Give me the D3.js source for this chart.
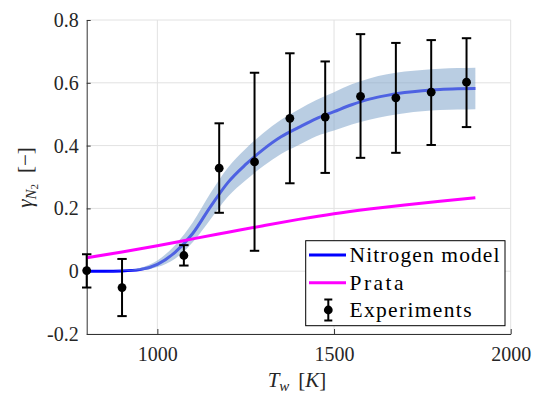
<!DOCTYPE html>
<html>
<head>
<script src="https://cdn.jsdelivr.net/npm/d3@7"></script>
</head>
<body style="margin:0">
<main></main>
<script>
// model curve (Nitrogen model) with its uncertainty band
const modelT = [800, 850, 900, 950, 1000, 1050, 1100, 1150, 1200, 1250, 1300, 1350, 1400, 1450, 1500, 1550, 1600, 1650, 1700, 1750, 1800, 1850, 1900];
const modelVal = [0, 0, 0.001, 0.005, 0.022, 0.06, 0.12, 0.205, 0.283, 0.34, 0.388, 0.428, 0.458, 0.486, 0.508, 0.53, 0.548, 0.56, 0.569, 0.575, 0.579, 0.581, 0.582];
const bandHigh = [0, 0, 0.002, 0.01, 0.034, 0.083, 0.155, 0.248, 0.33, 0.39, 0.44, 0.482, 0.515, 0.545, 0.57, 0.595, 0.614, 0.627, 0.636, 0.641, 0.645, 0.647, 0.648];
const bandLow = [0, 0, 0.001, 0.002, 0.013, 0.04, 0.092, 0.165, 0.238, 0.29, 0.335, 0.373, 0.402, 0.43, 0.448, 0.467, 0.482, 0.494, 0.503, 0.509, 0.513, 0.515, 0.516];

// Prata correlation
const prataT = [800, 900, 1000, 1100, 1200, 1300, 1400, 1500, 1600, 1700, 1800, 1900];
const prataVal = [0.043, 0.061, 0.081, 0.103, 0.124, 0.145, 0.165, 0.183, 0.198, 0.211, 0.223, 0.234];

// experiments with error bars
const expT = [800, 900, 1075, 1175, 1275, 1375, 1475, 1575, 1675, 1775, 1875];
const expVal = [0.002, -0.052, 0.05, 0.328, 0.348, 0.487, 0.491, 0.557, 0.552, 0.57, 0.602];
const expLow = [-0.052, -0.143, 0.018, 0.186, 0.065, 0.28, 0.313, 0.361, 0.377, 0.402, 0.459];
const expHigh = [0.054, 0.039, 0.083, 0.471, 0.632, 0.694, 0.668, 0.755, 0.727, 0.736, 0.742];

const xTicks = [1000, 1500, 2000];
const yTicks = [-0.2, 0, 0.2, 0.4, 0.6, 0.8];
const yTickLabels = ['-0.2', '0', '0.2', '0.4', '0.6', '0.8'];
const legendNames = ['Nitrogen model', 'Prata', 'Experiments'];

const w = 550, h = 394;
const mLeft = 86.7, mRight = 510.7, mTop = 20, mBottom = 334;
const fs = 20;
const fontName = '"Liberation Serif"';

const svg = d3.select('main').append('svg').attr('width', w).attr('height', h);

const x = d3.scaleLinear().domain([800, 2000]).range([mLeft, mRight]);
const y = d3.scaleLinear().domain([-0.2, 0.8]).range([mBottom, mTop]);

// grid
svg.append('g').selectAll('line').data(xTicks).enter().append('line')
    .attr('x1', d => x(d)).attr('x2', d => x(d))
    .attr('y1', mTop).attr('y2', mBottom)
    .attr('stroke', '#e2e2e2').attr('stroke-width', 1);
svg.append('g').selectAll('line').data(yTicks).enter().append('line')
    .attr('x1', mLeft).attr('x2', mRight)
    .attr('y1', d => y(d)).attr('y2', d => y(d))
    .attr('stroke', '#e2e2e2').attr('stroke-width', 1);

// axes
const xAxis = d3.axisBottom(x).tickValues(xTicks).tickSizeInner(-5).tickSizeOuter(0).tickPadding(12.5)
    .tickFormat(d3.format('d'));
const yAxis = d3.axisLeft(y).tickValues(yTicks).tickSizeInner(-4).tickSizeOuter(0).tickPadding(8)
    .tickFormat((d, i) => yTickLabels[i]);
const gx = svg.append('g').attr('transform', `translate(0, ${mBottom})`).call(xAxis);
const gy = svg.append('g').attr('transform', `translate(${mLeft}, 0)`).call(yAxis);
[gx, gy].forEach(g => {
    g.attr('font-family', null).attr('font-size', null);
    g.select('.domain').attr('stroke', '#333').attr('stroke-width', 1);
    g.selectAll('.tick line').attr('stroke', '#333');
    g.selectAll('.tick text')
        .style('font-family', d => fontName)
        .attr('font-size', fs).attr('fill', '#262626');
});

const modelData = modelT.map((t, i) => ({t: t, v: modelVal[i], hi: bandHigh[i], lo: bandLow[i]}));

// model line (band is drawn over it, semi-transparent)
svg.append('path').datum(modelData)
    .attr('d', d3.line().x(d => x(d.t)).y(d => y(d.v)).curve(d3.curveMonotoneX))
    .attr('fill', 'none').attr('stroke', '#0000ff').attr('stroke-width', 3);

svg.append('path').datum(modelData)
    .attr('d', d3.area().x(d => x(d.t)).y0(d => y(d.lo)).y1(d => y(d.hi)).curve(d3.curveMonotoneX))
    .attr('fill', 'rgb(135,168,205)').attr('fill-opacity', 0.58);

// Prata
svg.append('path').datum(prataT.map((t, i) => [t, prataVal[i]]))
    .attr('d', d3.line().x(d => x(d[0])).y(d => y(d[1])).curve(d3.curveMonotoneX))
    .attr('fill', 'none').attr('stroke', '#ff00ff').attr('stroke-width', 3);

// experiments
const cap = 4.7;
const exp = svg.append('g').selectAll('g').data(expT.map((t, i) => ({t: t, v: expVal[i], lo: expLow[i], hi: expHigh[i]})))
    .enter().append('g');
exp.append('line')
    .attr('x1', d => x(d.t)).attr('x2', d => x(d.t))
    .attr('y1', d => y(d.lo)).attr('y2', d => y(d.hi))
    .attr('stroke', '#000').attr('stroke-width', 2);
exp.append('line')
    .attr('x1', d => x(d.t) - cap).attr('x2', d => x(d.t) + cap)
    .attr('y1', d => y(d.lo)).attr('y2', d => y(d.lo))
    .attr('stroke', '#000').attr('stroke-width', 2);
exp.append('line')
    .attr('x1', d => x(d.t) - cap).attr('x2', d => x(d.t) + cap)
    .attr('y1', d => y(d.hi)).attr('y2', d => y(d.hi))
    .attr('stroke', '#000').attr('stroke-width', 2);
exp.append('circle')
    .attr('cx', d => x(d.t)).attr('cy', d => y(d.v)).attr('r', 4.4)
    .attr('fill', '#000');

// axis labels
const xl = svg.append('text').attr('x', 297).attr('y', 386.5).attr('text-anchor', 'middle')
    .style('font-family', fontName).attr('font-size', 21).attr('fill', '#262626');
xl.append('tspan').attr('font-style', 'italic').text('T');
xl.append('tspan').attr('font-style', 'italic').attr('font-size', 15).attr('dy', 4).text('w');
xl.append('tspan').attr('dy', -4).attr('dx', 9).text('[');
xl.append('tspan').attr('font-style', 'italic').text('K');
xl.append('tspan').text(']');

const yl = svg.append('text').attr('transform', 'translate(32, 177.5) rotate(-90)').attr('text-anchor', 'middle')
    .style('font-family', fontName).attr('font-size', 21).attr('fill', '#262626');
yl.append('tspan').attr('font-style', 'italic').text('\u03b3');
yl.append('tspan').attr('font-style', 'italic').attr('font-size', 15).attr('dy', 4).text('N');
yl.append('tspan').attr('font-size', 11).attr('dy', 2).text('2');
yl.append('tspan').attr('dy', -6).attr('dx', 11).text('[\u2212]');

// legend
const lg = svg.append('g');
lg.append('rect').attr('x', 305.7).attr('y', 240.7).attr('width', 199.3).attr('height', 85)
    .attr('fill', '#fff').attr('stroke', '#000').attr('stroke-width', 1);
const rowY = [255, 282.7, 310];
const rowTextLen = [150, 54, 122];
const rowColor = ['#0000ff', '#ff00ff'];
rowColor.forEach((c, i) => {
    lg.append('line').attr('x1', 309).attr('x2', 346).attr('y1', rowY[i]).attr('y2', rowY[i])
        .attr('stroke', c).attr('stroke-width', 3);
});
lg.append('line').attr('x1', 328.3).attr('x2', 328.3).attr('y1', rowY[2] - 10.5).attr('y2', rowY[2] + 10.5)
    .attr('stroke', '#000').attr('stroke-width', 2);
[-10.5, 10.5].forEach(o => {
    lg.append('line').attr('x1', 328.3 - 4).attr('x2', 328.3 + 4).attr('y1', rowY[2] + o).attr('y2', rowY[2] + o)
        .attr('stroke', '#000').attr('stroke-width', 2);
});
lg.append('circle').attr('cx', 328.3).attr('cy', rowY[2]).attr('r', 4.4).attr('fill', '#000');
lg.selectAll('text.leg').data(legendNames).enter().append('text')
    .attr('class', 'leg')
    .attr('x', 349.5).attr('y', (d, i) => rowY[i] + 7.3)
    .attr('textLength', (d, i) => rowTextLen[i]).attr('lengthAdjust', 'spacing')
    .style('font-family', d => fontName).attr('font-size', 21.5).attr('fill', '#000')
    .text(d => d);
</script>
</body>
</html>
